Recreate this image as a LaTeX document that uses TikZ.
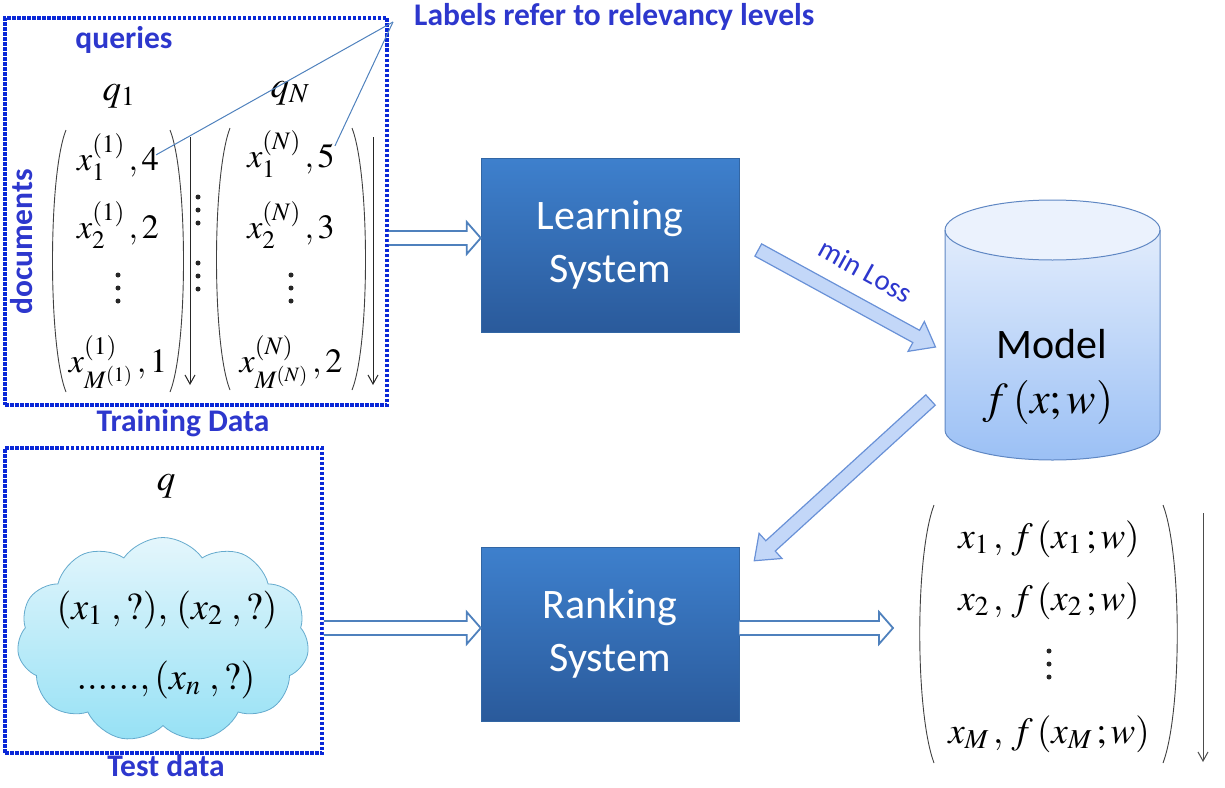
\documentclass[tikz,border=0pt]{standalone}
\usepackage{mathptmx}
\usepackage{fontspec}
\setmainfont{Liberation Serif}
\newfontfamily\calibri{Carlito}
\usetikzlibrary{shapes.symbols,calc,arrows.meta}
\definecolor{lblue}{RGB}{45,55,205}
\definecolor{dotblue}{RGB}{10,40,215}
\definecolor{steel}{RGB}{79,129,189}
\definecolor{boxtop}{RGB}{62,128,205}
\definecolor{boxbot}{RGB}{42,90,155}
\definecolor{cyltop}{RGB}{235,242,253}
\definecolor{cylbot}{RGB}{155,192,245}
\definecolor{cylline}{RGB}{95,135,195}
\definecolor{cloudtop}{RGB}{228,246,252}
\definecolor{cloudbot}{RGB}{150,225,245}
\definecolor{cloudline}{RGB}{100,170,205}
\definecolor{fatfill}{RGB}{195,215,248}
\definecolor{fatline}{RGB}{105,145,215}
\newcommand{\hollowarrow}[2]{%
  \draw[hollowstyle] let \p1=(#1), \p2=(#2) in
    (\x1,\y1+7pt) -- (\x2-14pt,\y1+7pt) -- (\x2-14pt,\y1+16pt) -- (\x2,\y1)
    -- (\x2-14pt,\y1-16pt) -- (\x2-14pt,\y1-7pt) -- (\x1,\y1-7pt);}
\newcommand{\fatarrow}[2]{%
  \path[fatstyle] let \p1=(#1), \p2=($(#2)-(#1)$), \n1={atan2(\y2,\x2)}, \n2={veclen(\x2,\y2)} in
    [shift={(\p1)}, rotate=\n1]
    (0pt,-7pt) -- ({\n2*1pt-22pt},-7pt) -- ({\n2*1pt-22pt},-17pt) -- ({\n2*1pt},0pt)
    -- ({\n2*1pt-22pt},17pt) -- ({\n2*1pt-22pt},7pt) -- (0pt,7pt) -- cycle;}
\newcommand{\dotsat}[1]{%
  \fill[black!85] ($(#1)+(0,-13)$) circle[radius=2.5pt] (#1) circle[radius=2.5pt] ($(#1)+(0,13)$) circle[radius=2.5pt];}
\tikzset{
  dotbox/.style={draw=dotblue, line width=3.6pt, dash pattern=on 3.5pt off 1.5pt, inner sep=0pt},
  sysbox/.style={rectangle, top color=boxtop, bottom color=boxbot, draw=boxtop!80!black, line width=0.5pt,
    minimum width=258, minimum height=174, text=white, align=center,
    font=\calibri\fontsize{42}{53}\selectfont},
  lbl/.style={text=lblue, inner sep=0pt, font=\calibri\bfseries\fontsize{31.5}{36}\selectfont},
  mth/.style={anchor=base, inner sep=0pt, font=\fontsize{34}{40}\selectfont},
  paren/.style={draw=black!75, line width=0.9pt},
  vark/.style={draw=black!85, line width=1pt, -{Straight Barb[length=9pt,width=10pt]}},
  hollowstyle/.style={draw=steel, line width=1.8pt, fill=white, line join=miter},
  fatstyle/.style={draw=fatline, fill=fatfill, line width=1.2pt, line join=miter},
  leader/.style={draw=steel, line width=1pt},
}
\begin{document}
\begin{tikzpicture}[x=1pt,y=-1pt]
\useasboundingbox (0,0) rectangle (1225,787);
% ---------- training data ----------
\node[dotbox, minimum width=382, minimum height=387] (train) at (196,211.5) {};
\node[lbl] (queries) at (124,40) {queries};
\node[lbl, rotate=90] (docs) at (22,242) {documents};
\node[lbl] (trainlbl) at (183,423) {Training Data};
\node[lbl, anchor=west] (labels) at (414,17) {Labels refer to relevancy levels};
\node[mth, font=\fontsize{37}{40}\selectfont] (q1) at (119,100) {$q_1$};
\node[mth, font=\fontsize{37}{40}\selectfont] (qN) at (290,97) {$q_N$};
\node[mth] (e11) at (118,170) {$x_1^{(1)}\,,4$};
\node[mth] (e12) at (118,238) {$x_2^{(1)}\,,2$};
\coordinate (e13) at (118,288);
\node[mth] (e14) at (118,372) {$x_{M^{(1)}}^{(1)}\,,1$};
\node[mth] (e21) at (291,167) {$x_1^{(N)}\,,5$};
\node[mth] (e22) at (291,238) {$x_2^{(N)}\,,3$};
\coordinate (e23) at (291,288);
\node[mth] (e24) at (291,372) {$x_{M^{(N)}}^{(N)}\,,2$};
\coordinate (mid1) at (198,210);
\coordinate (mid2) at (198,276);
\dotsat{e13} \dotsat{e23} \dotsat{mid1} \dotsat{mid2}
\draw[paren] (66,130) .. controls (48,175) and (48,347) .. (66,392);
\draw[paren] (170,130) .. controls (188,175) and (188,347) .. (170,392);
\draw[paren] (230,128) .. controls (212,175) and (212,345) .. (230,390);
\draw[paren] (352,128) .. controls (370,175) and (370,345) .. (352,390);
\coordinate (a1s) at (190,137); \coordinate (a1e) at (190,385);
\coordinate (a2s) at (373,137); \coordinate (a2e) at (373,385);
\draw[vark] (a1s) -- (a1e);
\draw[vark] (a2s) -- (a2e);
\coordinate (lc) at ($(labels.west)+(-21,5)$);
\draw[leader] (lc) -- ($(e11.east)+(-3,-2)$);
\draw[leader] (lc) -- ($(e21.east)+(0,-8)$);
% ---------- test data ----------
\node[dotbox, minimum width=317, minimum height=305] (test) at (163.5,600.5) {};
\node[lbl] (testlbl) at (166,766) {Test data};
\node[mth, font=\fontsize{37}{40}\selectfont] (q) at (166,490) {$q$};
\node[cloud, cloud puffs=11, cloud puff arc=110, aspect=1.45, minimum width=292, minimum height=205,
  draw=cloudline, line width=0.8pt, top color=cloudtop, bottom color=cloudbot] (cloud) at (163,640) {};
\node[mth, font=\fontsize{38}{44}\selectfont] (c1) at (167,619) {$(x_1\;,?),\,(x_2\;,?)$};
\node[mth, font=\fontsize{38}{44}\selectfont] (c2) at (166,689) {$......,(x_n\;,?)$};
% ---------- systems ----------
\node[sysbox] (learn) at (610,245) {\raisebox{-5pt}{\begin{tabular}{@{}c@{}}Learning\\System\end{tabular}}};
\node[sysbox] (rank) at (610,634) {\raisebox{-3pt}{\begin{tabular}{@{}c@{}}Ranking\\System\end{tabular}}};
% ---------- model ----------
\coordinate (cyl) at (1052.5,330);
\shade[top color=cyltop, bottom color=cylbot] (945,230) -- (945,430)
  arc[start angle=180, end angle=0, x radius=107.5, y radius=30] -- (1160,230)
  arc[start angle=0, end angle=-180, x radius=107.5, y radius=30] -- cycle;
\fill[cyltop] (1052.5,230) ellipse [x radius=107.5, y radius=30];
\draw[cylline, line width=1pt] (945,230) -- (945,430)
  arc[start angle=180, end angle=0, x radius=107.5, y radius=30] -- (1160,230);
\draw[cylline, line width=1pt] (1052.5,230) ellipse [x radius=107.5, y radius=30];
\node[anchor=base, inner sep=0pt, font=\calibri\fontsize{42}{48}\selectfont] (model) at (1052,358) {Model};
\node[mth, font=\fontsize{44}{48}\selectfont] (fx) at (1048,413) {$f\,(x;w)$};
% ---------- result ----------
\node[mth, font=\fontsize{37}{42}\selectfont] (r1) at (1049,548) {$x_1\,,\,f\,(x_1\,;w)$};
\node[mth, font=\fontsize{37}{42}\selectfont] (r2) at (1049,610) {$x_2\,,\,f\,(x_2\,;w)$};
\coordinate (r3) at (1049,664);
\dotsat{r3}
\node[mth, font=\fontsize{37}{42}\selectfont] (r4) at (1049,743) {$x_M\,,\,f\,(x_M\,;w)$};
\draw[paren] (934,505) .. controls (915,555) and (915,712) .. (934,763);
\draw[paren] (1163,505) .. controls (1182,555) and (1182,712) .. (1163,763);
\coordinate (a3s) at (1203,513); \coordinate (a3e) at (1203,762);
\draw[vark, draw=black!70] (a3s) -- (a3e);
% ---------- connectors ----------
\coordinate (lt) at ($(learn.west)+(0,-7)$);
\hollowarrow{train.east |- lt}{lt}
\coordinate (rt) at ($(rank.west)+(0,-6)$);
\hollowarrow{test.east |- rt}{rt}
\coordinate (resin) at (893,628);
\hollowarrow{rank.east |- resin}{resin}
\fatarrow{$(learn.east)+(19,5)$}{$(cyl)+(-117,17)$}
\fatarrow{$(cyl)+(-122,70)$}{$(rank.north east)+(15,14)$}
\node[text=lblue, inner sep=0pt, rotate=-29, font=\calibri\fontsize{29}{32}\selectfont] (minloss) at (866,271) {min Loss};
\end{tikzpicture}
\end{document}
